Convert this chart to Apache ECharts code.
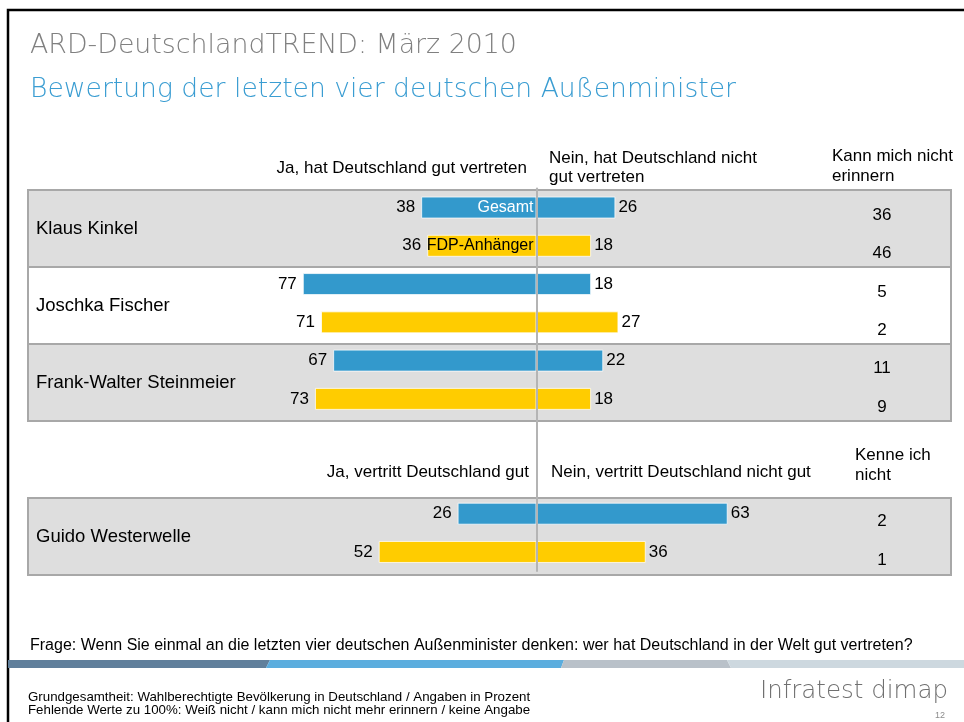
<!DOCTYPE html>
<html><head><meta charset="utf-8">
<script src="https://cdn.jsdelivr.net/npm/echarts@6/dist/echarts.min.js"></script>
<style>html,body{margin:0;padding:0;background:#fff}#c{width:964px;height:722px}</style>
</head><body><div id="c"></div>
<script>
// ---- data ----
const ministers = ['Klaus Kinkel', 'Joschka Fischer', 'Frank-Walter Steinmeier', 'Guido Westerwelle'];
const groups = ['Gesamt', 'FDP-Anhänger'];
const jaValues = [38, 36, 77, 71, 67, 73, 26, 52];        // "Ja" (left)
const neinValues = [26, 18, 18, 27, 22, 18, 63, 36];      // "Nein" (right)
const restValues = [36, 46, 5, 2, 11, 9, 2, 1];           // kann mich nicht erinnern / kenne ich nicht
const secondTableStartsAt = 3;                            // Westerwelle in 2nd table
const xRange = [-100, 100];

// ---- styles ----
const FONT = 'Liberation Sans, Arial, sans-serif';
const TITLE_FONT = 'DejaVu Sans, Liberation Sans, sans-serif';
const groupColors = ['#3399cc', '#ffcc00'];
const groupLabelColors = ['#ffffff', '#000000'];
const panelFills = ['#dedede', '#ffffff', '#dedede', '#dedede'];

// build slots (rows) incl. spacer between tables
const slots = [];
ministers.forEach((m, mi) => {
  if (mi === secondTableStartsAt) { slots.push(null, null); }
  groups.forEach((g, gi) => slots.push({ mi, gi, r: mi * groups.length + gi }));
});
const cats = slots.map((s, i) => 'r' + i);

const jaData = slots.map(s => s ? { value: -jaValues[s.r], itemStyle: { color: groupColors[s.gi] } } : '-');
const neinData = slots.map(s => s ? { value: neinValues[s.r], itemStyle: { color: groupColors[s.gi] } } : '-');
const groupLabelData = slots.map(s => (s && s.mi === 0) ? {
  value: -jaValues[s.r],
  label: { show: true, formatter: groups[s.gi], color: groupLabelColors[s.gi] }
} : '-');
const restData = [];
slots.forEach((s, i) => { if (s) restData.push([xRange[1], i, restValues[s.r]]); });

const panelAreas = ministers.map((m, mi) => {
  const first = slots.findIndex(s => s && s.mi === mi);
  return [
    { name: m, yAxis: first, itemStyle: { color: panelFills[mi] } },
    { yAxis: first + groups.length }
  ];
});

const chart = echarts.init(document.getElementById('c'), null, { renderer: 'canvas' });

const barBase = {
  type: 'bar', xAxisIndex: 0, yAxisIndex: 0, barWidth: 22, barGap: '-100%',
  z: 3,
  itemStyle: { borderColor: 'rgba(255,255,255,0.75)', borderWidth: 1 }
};

const txt = (text, x, y, size, color, align, extra) => ({
  type: 'text', x, y, silent: true,
  style: Object.assign({ text, fontFamily: FONT, fontSize: size, fill: color, textAlign: align || 'left', textVerticalAlign: 'middle' }, extra || {})
});

chart.setOption({
  animation: false,
  backgroundColor: '#ffffff',
  grid: [
    { left: 233, width: 607, top: 188.4, height: 382.7 },
    { left: 28, right: 13, top: 190, height: 385 }
  ],
  xAxis: [
    { type: 'value', gridIndex: 0, min: xRange[0], max: xRange[1], show: false },
    { type: 'value', gridIndex: 1, min: 0, max: 1, show: false }
  ],
  yAxis: [
    { type: 'category', gridIndex: 0, data: cats, inverse: true, z: 10,
      axisLine: { show: true, onZero: true, lineStyle: { color: '#b4b4b4', width: 2 } },
      axisTick: { show: false }, axisLabel: { show: false }, splitLine: { show: false } },
    { type: 'value', gridIndex: 1, min: 0, max: slots.length, inverse: true, show: false }
  ],
  series: [
    { type: 'line', xAxisIndex: 1, yAxisIndex: 1, data: [], z: 1, silent: true,
      markArea: {
        silent: true,
        itemStyle: { borderColor: '#a8a8a8', borderWidth: 2 },
        label: { show: true, position: 'insideLeft', distance: 9, color: '#000', fontFamily: FONT, fontSize: 18.5 },
        data: panelAreas
      } },
    Object.assign({}, barBase, { name: 'Ja', data: jaData,
      label: { show: true, position: 'left', distance: 6, color: '#000', fontFamily: FONT, fontSize: 17,
        formatter: p => Math.abs(p.value) } }),
    Object.assign({}, barBase, { name: 'Nein', data: neinData,
      label: { show: true, position: 'right', distance: 3, color: '#000', fontFamily: FONT, fontSize: 17 } }),
    Object.assign({}, barBase, { name: 'Gruppe', data: groupLabelData, z: 4,
      itemStyle: { color: 'rgba(0,0,0,0)', borderWidth: 0 },
      label: { show: false, position: 'insideRight', distance: 3, fontFamily: FONT, fontSize: 16 } }),
    { type: 'custom', name: 'rest', xAxisIndex: 0, yAxisIndex: 0, silent: true, clip: false, z: 5,
      encode: { x: 0, y: 1 },
      data: restData,
      renderItem: (params, api) => {
        const pt = api.coord([api.value(0), api.value(1)]);
        return { type: 'text', x: pt[0] + 42, y: pt[1] + 8,
          style: { text: String(api.value(2)), fontFamily: FONT, fontSize: 17, fill: '#000', textAlign: 'center', textVerticalAlign: 'middle' } };
      } }
  ],
  graphic: [
    { type: 'polyline', silent: true, shape: { points: [[8, 722], [8, 10], [964, 10]] }, style: { stroke: '#000', lineWidth: 2.5, fill: null } },
    txt('ARD-DeutschlandTREND: März 2010', 30, 46, 26.8, '#808080', 'left', { fontFamily: TITLE_FONT, fontWeight: 200 }),
    txt('Bewertung der letzten vier deutschen Außenminister', 30, 90, 26.6, '#3a9dd2', 'left', { fontFamily: TITLE_FONT, fontWeight: 200 }),
    txt('Ja, hat Deutschland gut vertreten', 527, 168, 17, '#000', 'right'),
    txt('Nein, hat Deutschland nicht', 549, 158, 17, '#000'),
    txt('gut vertreten', 549, 177, 17, '#000'),
    txt('Kann mich nicht', 832, 156, 17, '#000'),
    txt('erinnern', 832, 176, 17, '#000'),
    txt('Ja, vertritt Deutschland gut', 529, 472, 17, '#000', 'right'),
    txt('Nein, vertritt Deutschland nicht gut', 551, 472, 17, '#000'),
    txt('Kenne ich', 855, 455, 17, '#000'),
    txt('nicht', 855, 475, 17, '#000'),
    txt('Frage: Wenn Sie einmal an die letzten vier deutschen Außenminister denken: wer hat Deutschland in der Welt gut vertreten?', 30, 646, 16, '#000'),
    { type: 'polygon', silent: true, shape: { points: [[8, 660], [270, 660], [266, 668], [8, 668]] }, style: { fill: '#607f9b' } },
    { type: 'polygon', silent: true, shape: { points: [[270, 660], [564, 660], [561, 668], [266, 668]] }, style: { fill: '#5badde' } },
    { type: 'polygon', silent: true, shape: { points: [[564, 660], [727, 660], [731, 668], [561, 668]] }, style: { fill: '#b9c1c9' } },
    { type: 'polygon', silent: true, shape: { points: [[727, 660], [964, 660], [964, 668], [731, 668]] }, style: { fill: '#cdd8df' } },
    txt('Grundgesamtheit: Wahlberechtigte Bevölkerung in Deutschland / Angaben in Prozent', 28, 697, 13.3, '#000'),
    txt('Fehlende Werte zu 100%: Weiß nicht / kann mich nicht mehr erinnern / keine Angabe', 28, 710, 13.3, '#000'),
    txt('Infratest dimap', 948, 692, 24.5, '#707070', 'right', { fontFamily: TITLE_FONT, fontWeight: 200 }),
    txt('12', 940, 716, 9, '#8c8c8c', 'center')
  ]
});
</script>
</body></html>
